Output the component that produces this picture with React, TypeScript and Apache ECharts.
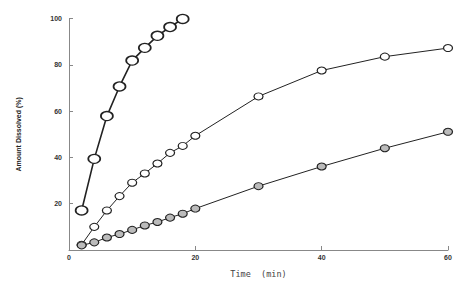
import React, { useEffect, useRef } from "react";
import * as echarts from "echarts";

const fastTimes = [2, 4, 6, 8, 10, 12, 14, 16, 18];
const fastValues = [17.1, 39.4, 57.9, 70.7, 81.9, 87.4, 92.6, 96.4, 99.9];

const midTimes = [2, 4, 6, 8, 10, 12, 14, 16, 18, 20, 30, 40, 50, 60];
const midValues = [2.3, 10, 17.1, 23.3, 29.1, 33.1, 37.4, 42, 45, 49.4, 66.4, 77.6, 83.6, 87.3];

const slowTimes = [2, 4, 6, 8, 10, 12, 14, 16, 18, 20, 30, 40, 50, 60];
const slowValues = [2.0, 3.3, 5.4, 6.9, 8.7, 10.6, 12.1, 14, 15.7, 17.9, 27.6, 36.1, 44, 51.1];

const xTicks = [0, 20, 40, 60];
const yTicks = [0, 20, 40, 60, 80, 100];

const pair = (t: number[], v: number[]) => t.map((x, i) => [x, v[i]]);

export default function App() {
  const ref = useRef<HTMLDivElement>(null);
  useEffect(() => {
    document.body.style.margin = "0";
    if (!ref.current) return;
    const chart = echarts.init(ref.current, null, { renderer: "svg" });
    const axisLabel = {
      color: "#333",
      fontSize: 7,
      fontFamily: "Liberation Sans",
      fontWeight: "bold" as const,
    };
    chart.setOption({
      animation: false,
      backgroundColor: "#fff",
      grid: { left: 69, right: 28, top: 18.7, bottom: 31, containLabel: false },
      xAxis: {
        type: "value",
        min: xTicks[0],
        max: xTicks[xTicks.length - 1],
        interval: 20,
        name: "Time  (min)",
        nameLocation: "middle",
        nameGap: 19,
        nameTextStyle: { fontSize: 8.5, color: "#444", fontFamily: "DejaVu Sans Mono" },
        axisLine: { lineStyle: { color: "#888", width: 1 } },
        axisTick: { inside: true, length: 4, lineStyle: { color: "#888" } },
        axisLabel: { ...axisLabel, margin: 4 },
        splitLine: { show: false },
      },
      yAxis: {
        type: "value",
        min: yTicks[0],
        max: yTicks[yTicks.length - 1],
        interval: 20,
        name: "Amount Dissolved (%)",
        nameLocation: "middle",
        nameGap: 47,
        nameTextStyle: { fontSize: 7, color: "#222", fontWeight: "bold", fontFamily: "Liberation Sans" },
        axisLine: { show: true, lineStyle: { color: "#888", width: 1 } },
        axisTick: { show: true, inside: true, length: 4, lineStyle: { color: "#888" } },
        axisLabel: { ...axisLabel, margin: 7, showMinLabel: false },
        splitLine: { show: false },
      },
      series: [
        {
          type: "line",
          data: pair(fastTimes, fastValues),
          symbol: "circle",
          symbolSize: [12, 9],
          lineStyle: { color: "#222", width: 1.6 },
          itemStyle: { color: "#fff", borderColor: "#222", borderWidth: 1.5 },
          z: 3,
        },
        {
          type: "line",
          data: pair(midTimes, midValues),
          symbol: "circle",
          symbolSize: [9, 7],
          lineStyle: { color: "#222", width: 1 },
          itemStyle: { color: "#fff", borderColor: "#222", borderWidth: 1.1 },
          z: 2,
        },
        {
          type: "line",
          data: pair(slowTimes, slowValues),
          symbol: "circle",
          symbolSize: [9, 7],
          lineStyle: { color: "#222", width: 1 },
          itemStyle: { color: "#bbb", borderColor: "#222", borderWidth: 1.1 },
          z: 2,
        },
      ],
    });
    return () => chart.dispose();
  }, []);
  return <div ref={ref} style={{ width: 476, height: 283 }} />;
}
